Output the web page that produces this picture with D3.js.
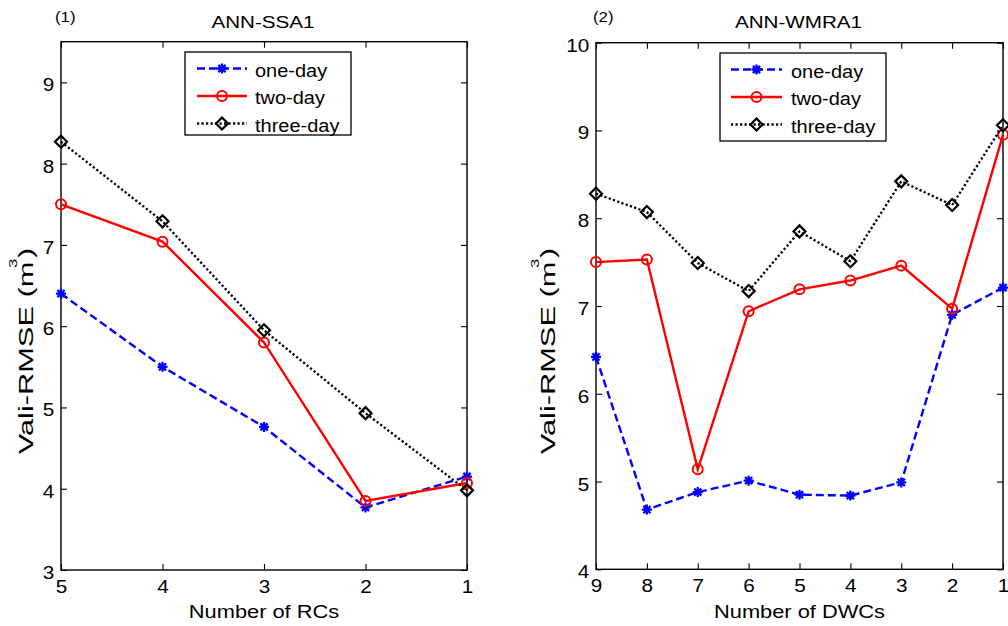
<!DOCTYPE html>
<html>
<head>
<meta charset="utf-8">
<script src="https://cdn.jsdelivr.net/npm/d3@7"></script>
<style>
body { margin: 0; background: #fff; }
svg { display: block; }
</style>
</head>
<body>
<svg id="chart" width="1008" height="626"></svg>
<script>
// panel (1): ANN-SSA1
const rcs = [5, 4, 3, 2, 1]
const ssaOne = [6.40, 5.50, 4.76, 3.77, 4.15]
const ssaTwo = [7.50, 7.04, 5.80, 3.85, 4.07]
const ssaThree = [8.27, 7.29, 5.95, 4.93, 3.98]
const ssaYTicks = [3, 4, 5, 6, 7, 8, 9]

// panel (2): ANN-WMRA1
const dwcs = [9, 8, 7, 6, 5, 4, 3, 2, 1]
const wmraOne = [6.42, 4.68, 4.88, 5.01, 4.85, 4.84, 4.99, 6.90, 7.21]
const wmraTwo = [7.50, 7.53, 5.14, 6.94, 7.19, 7.29, 7.46, 6.97, 8.95]
const wmraThree = [8.28, 8.07, 7.49, 7.17, 7.85, 7.51, 8.42, 8.15, 9.06]
const wmraYTicks = [4, 5, 6, 7, 8, 9, 10]

const seriesNames = ['one-day', 'two-day', 'three-day']

const FONT = '"Liberation Sans", Arial, Helvetica, sans-serif'

const styles = [
	{color: '#0000ff', width: 2.4, dash: '8,4', marker: 'star'},
	{color: '#ff0000', width: 2.4, dash: null, marker: 'circle'},
	{color: '#000000', width: 2.3, dash: '2.2,2.3', marker: 'diamond'}
]

const svg = d3.select('#chart')

function markerPath(type) {
	if (type == 'star') {
		let s = 5, k = 3.6
		return `M${-s},0L${s},0M0,${-s}L0,${s}M${-k},${-k}L${k},${k}M${-k},${k}L${k},${-k}`
	}
	if (type == 'diamond') {
		let s = 6
		return `M0,${-s}L${s},0L0,${s}L${-s},0Z`
	}
	return null
}

function drawMarker(g, type, color, cx, cy) {
	if (type == 'circle') {
		g.append('circle')
			.attr('cx', cx).attr('cy', cy).attr('r', 5)
			.attr('fill', 'none').attr('stroke', color).attr('stroke-width', 2)
	} else {
		g.append('path')
			.attr('transform', `translate(${cx},${cy})`)
			.attr('d', markerPath(type))
			.attr('fill', 'none').attr('stroke', color)
			.attr('stroke-width', type == 'star' ? 2.3 : 2.2)
	}
}

function label(g, x, y, str, size, sx, anchor) {
	return g.append('text')
		.attr('transform', `translate(${x},${y}) scale(${sx},1)`)
		.attr('text-anchor', anchor || 'middle')
		.attr('font-family', FONT)
		.attr('font-size', size)
		.attr('fill', '#000')
		.text(str)
}

function panel(cfg) {
	let g = svg.append('g')
	let x = d3.scaleLinear().domain(cfg.xDomain).range([cfg.left, cfg.right])
	let y = d3.scaleLinear().domain(cfg.yDomain).range([cfg.bottom, cfg.top])

	// axes, ticks pointing inward on all four sides
	let bottomAxis = g.append('g')
		.attr('transform', `translate(0,${cfg.bottom})`)
		.call(d3.axisBottom(x).tickValues(cfg.xs).tickFormat(d3.format('d')).tickSizeInner(-6).tickSizeOuter(0))
	bottomAxis.selectAll('.tick text')
		.attr('y', 23).attr('dy', null)
		.attr('transform', 'scale(1.12,1)')

	let leftAxis = g.append('g')
		.attr('transform', `translate(${cfg.left},0)`)
		.call(d3.axisLeft(y).tickValues(cfg.yTicks).tickFormat(d3.format('d')).tickSizeInner(-6).tickSizeOuter(0).tickPadding(6))
	leftAxis.selectAll('.tick text')
		.attr('dy', '0.46em')
		.attr('transform', 'scale(1.12,1)')

	let topAxis = g.append('g')
		.attr('transform', `translate(0,${cfg.top})`)
		.call(d3.axisTop(x).tickValues(cfg.xs).tickSizeInner(-6).tickSizeOuter(0))
	let rightAxis = g.append('g')
		.attr('transform', `translate(${cfg.right},0)`)
		.call(d3.axisRight(y).tickValues(cfg.yTicks).tickSizeInner(-6).tickSizeOuter(0))
	topAxis.selectAll('.tick text').remove()
	rightAxis.selectAll('.tick text').remove()

	g.selectAll('.domain').remove()
	g.selectAll('.tick line').attr('stroke', '#000').attr('stroke-width', 1.1)
	g.selectAll('.tick text').attr('fill', '#000')
	;[bottomAxis, leftAxis].forEach(a => a.attr('font-family', FONT).attr('font-size', 18.5))

	g.append('rect')
		.attr('x', cfg.left).attr('y', cfg.top)
		.attr('width', cfg.right - cfg.left).attr('height', cfg.bottom - cfg.top)
		.attr('fill', 'none').attr('stroke', '#000').attr('stroke-width', 1.4)

	// series
	cfg.series.forEach((vals, k) => {
		let st = styles[k]
		let line = d3.line().x((d, i) => x(cfg.xs[i])).y(d => y(d))
		g.append('path')
			.datum(vals)
			.attr('d', line)
			.attr('fill', 'none')
			.attr('stroke', st.color)
			.attr('stroke-width', st.width)
			.attr('stroke-dasharray', st.dash)
		vals.forEach((v, i) => drawMarker(g, st.marker, st.color, x(cfg.xs[i]), y(v)))
	})

	// legend
	let lg = cfg.legend
	g.append('rect')
		.attr('x', lg.x).attr('y', lg.y).attr('width', lg.w).attr('height', lg.h)
		.attr('fill', '#fff').attr('stroke', '#000').attr('stroke-width', 1.3)
	seriesNames.forEach((name, k) => {
		let st = styles[k]
		let ry = lg.rows[k]
		g.append('line')
			.attr('x1', lg.lineX[0]).attr('x2', lg.lineX[1])
			.attr('y1', ry).attr('y2', ry)
			.attr('stroke', st.color)
			.attr('stroke-width', st.width)
			.attr('stroke-dasharray', st.dash)
		drawMarker(g, st.marker, st.color, (lg.lineX[0] + lg.lineX[1]) / 2, ry)
		label(g, lg.textX, ry + 8, name, 18.5, 1.08, 'start')
	})

	// titles and labels
	let cx = (cfg.left + cfg.right) / 2
	label(g, cx - 1, 27.5, cfg.title, 17.2, 1.2)
	label(g, cfg.tagX, 22, cfg.tag, 15, 1.12, 'start')
	label(g, cx, 618, cfg.xLabel, 18.5, 1.18)

	let yl = g.append('text')
		.attr('transform', `translate(${cfg.yLabelX},351) rotate(-90) scale(1.58,1.05)`)
		.attr('text-anchor', 'middle')
		.attr('font-family', FONT)
		.attr('font-size', 19.5)
		.attr('fill', '#000')
	yl.append('tspan').text('Vali-RMSE (m')
	yl.append('tspan').text('3').attr('dy', -15).attr('dx', -4).attr('font-size', 10.5)
	yl.append('tspan').text(')').attr('dy', 15).attr('dx', 0.5)
}

panel({
	left: 61, right: 467, top: 41.7, bottom: 570,
	xDomain: [5, 1], yDomain: [3, 9.5],
	xs: rcs, yTicks: ssaYTicks,
	series: [ssaOne, ssaTwo, ssaThree],
	title: 'ANN-SSA1', tag: '(1)', tagX: 55,
	xLabel: 'Number of RCs', yLabelX: 33,
	legend: {x: 185, y: 52, w: 166, h: 83, rows: [68.5, 96, 123.5], lineX: [197, 247], textX: 255}
})

panel({
	left: 596, right: 1003, top: 42.7, bottom: 569.3,
	xDomain: [9, 1], yDomain: [4, 10],
	xs: dwcs, yTicks: wmraYTicks,
	series: [wmraOne, wmraTwo, wmraThree],
	title: 'ANN-WMRA1', tag: '(2)', tagX: 593,
	xLabel: 'Number of DWCs', yLabelX: 555,
	legend: {x: 720, y: 53, w: 166, h: 88, rows: [69.5, 97, 124.5], lineX: [731, 782], textX: 791}
})
</script>
</body>
</html>
